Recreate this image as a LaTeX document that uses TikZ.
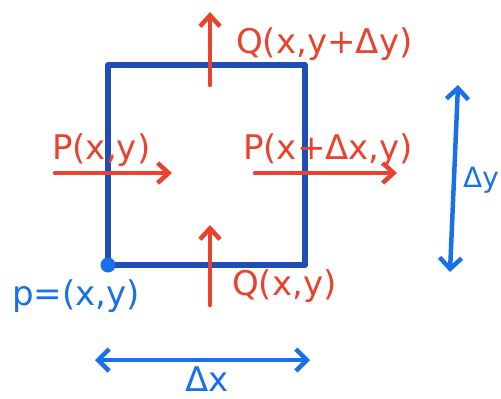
\documentclass[tikz,border=0pt]{standalone}
\usepackage{fontspec}
\setmainfont{DejaVu Sans}
\usetikzlibrary{arrows.meta,positioning}
\definecolor{boxblue}{HTML}{1F4DB5}
\definecolor{dimblue}{HTML}{1A70E6}
\definecolor{fluxred}{HTML}{E8432E}

\begin{document}
\begin{tikzpicture}[
  x=1pt, y=-1pt,
  edge/.style={draw=boxblue, line width=6pt, line join=round},
  flux/.style={-{Straight Barb[length=11pt,width=20pt]}, draw=fluxred, line width=4.5pt, line cap=round},
  dim/.style={{Straight Barb[length=11pt,width=22pt]}-{Straight Barb[length=11pt,width=22pt]}, draw=dimblue, line width=4.5pt, line cap=round},
  lbl/.style={font=\fontsize{34}{36}\selectfont, inner sep=0pt, anchor=west},
  redlbl/.style={lbl, text=fluxred},
  bluelbl/.style={lbl, text=dimblue}
]
  \useasboundingbox (0,0) rectangle (501,399);
  % Cell corners
  \coordinate (sw) at (108,265);
  \coordinate (se) at (305,265);
  \coordinate (ne) at (305,65);
  \coordinate (nw) at (108,65);
  \draw[edge] (sw) -- (nw) -- (ne) -- (se) -- cycle;
  \fill[dimblue] (sw) circle (7.5pt);
  % Flux arrows
  \coordinate (qtop0) at (210,85);  \coordinate (qtop1) at (210,12);
  \coordinate (qbot0) at (210,305); \coordinate (qbot1) at (210,225);
  \coordinate (pl0) at (55,173);    \coordinate (pl1) at (172,173);
  \coordinate (pr0) at (255,173);   \coordinate (pr1) at (397,173);
  \draw[flux] (qtop0) -- (qtop1);
  \draw[flux] (qbot0) -- (qbot1);
  \draw[flux] (pl0) -- (pl1);
  \draw[flux] (pr0) -- (pr1);
  % Flux labels
  \node[redlbl] (qtoplbl) at (236,44) {Q(x,y+Δy)};
  \node[redlbl] (qbotlbl) at (232,286) {Q(x,y)};
  \node[redlbl] (pllbl) at (52,150) {P(x,y)};
  \node[redlbl] (prlbl) at (243,150) {P(x+Δx,y)};
  % Corner point
  \node[bluelbl] (plbl) at (12,296) {p=(x,y)};
  % Dimensions
  \coordinate (dx0) at (95,360);  \coordinate (dx1) at (310,360);
  \coordinate (dy0) at (458,85);  \coordinate (dy1) at (450,272);
  \draw[dim] (dx0) -- (dx1);
  \draw[dim] (dy0) -- (dy1);
  \node[bluelbl, anchor=center] (dxlbl) at (207,379) {Δx};
  \node[bluelbl, font=\fontsize{28}{30}\selectfont] (dylbl) at (463,180) {Δy};
\end{tikzpicture}
\end{document}
